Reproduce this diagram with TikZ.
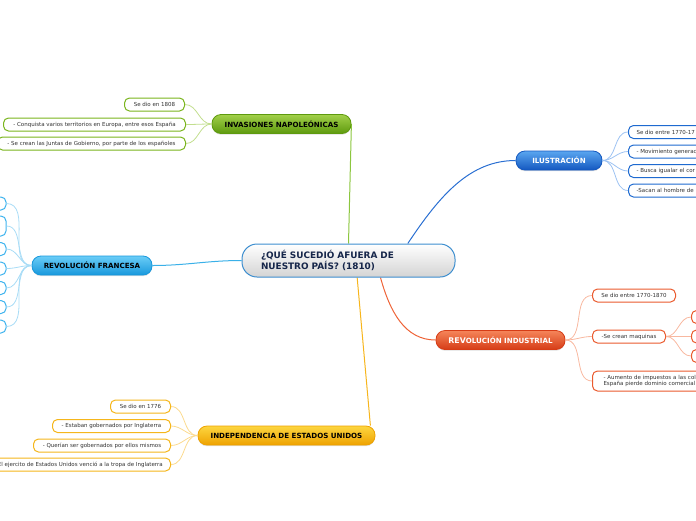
\documentclass[tikz,border=0pt]{standalone}
\usepackage{fontspec}
\setmainfont{DejaVu Sans}
\usetikzlibrary{shadows,calc}
\pgfdeclarelayer{bg}
\pgfsetlayers{bg,main}
\definecolor{gTop}{HTML}{A2D04A}\definecolor{gBot}{HTML}{5E9A0E}\definecolor{gLine}{HTML}{8CC63F}\definecolor{gLeaf}{HTML}{7AB51D}\definecolor{gLink}{HTML}{C2DE8E}
\definecolor{bTop}{HTML}{5AA6F0}\definecolor{bBot}{HTML}{1458C0}\definecolor{bLine}{HTML}{2A6FD2}\definecolor{bLeaf}{HTML}{1E6AD0}\definecolor{bLink}{HTML}{9CC2F2}
\definecolor{lTop}{HTML}{6ACDF7}\definecolor{lBot}{HTML}{1898DC}\definecolor{lLine}{HTML}{3AB0E8}\definecolor{lLeaf}{HTML}{3DB3EE}\definecolor{lLink}{HTML}{A8DCF6}
\definecolor{oTop}{HTML}{F5855A}\definecolor{oBot}{HTML}{D63C16}\definecolor{oLine}{HTML}{EE6438}\definecolor{oLeaf}{HTML}{EA5A2E}\definecolor{oLink}{HTML}{F8B8A0}
\definecolor{yTop}{HTML}{FDD640}\definecolor{yBot}{HTML}{EEA200}\definecolor{yLine}{HTML}{F7B51C}\definecolor{yLeaf}{HTML}{F5B61B}\definecolor{yLink}{HTML}{FBDA8E}
\definecolor{cBord}{HTML}{3D8ECF}\definecolor{cText}{HTML}{16264A}\definecolor{leafText}{HTML}{333333}
\begin{document}
\begin{tikzpicture}[x=1pt,y=-1pt,
  leaf/.style={draw=#1, fill=white, line width=1pt, rounded corners=5pt, minimum height=13pt,
    inner xsep=5pt, inner ysep=1pt, font=\fontsize{5.5}{6.6}\selectfont, text=leafText},
  branch/.style={rounded corners=9pt, minimum height=19pt, inner sep=0pt, line width=0.8pt,
    font=\bfseries\fontsize{7.1}{8.5}\selectfont,
    drop shadow={shadow xshift=0pt, shadow yshift=-1.2pt, opacity=0.25}},
  mainlink/.style={line width=1pt},
  leaflink/.style={line width=0.8pt}]
\useasboundingbox (0,0) rectangle (696,520);
\clip (0,0) rectangle (696,520);

% central node
\node[draw=cBord, line width=1pt, top color=white, bottom color=black!17, rounded corners=15pt,
  minimum width=213pt, minimum height=33pt, inner xsep=19pt, text width=175pt, align=left,
  font=\bfseries\fontsize{8.9}{10.6}\selectfont, text=cText] (c) at (348.5,260.5)
  {¿QUÉ SUCEDIÓ AFUERA DE\\NUESTRO PAÍS? (1810)};

% branch nodes
\node[branch, draw=gBot, top color=gTop, bottom color=gBot, minimum width=139pt, text=black] (inv) at (281.5,124) {INVASIONES NAPOLEÓNICAS};
\node[branch, draw=bBot, top color=bTop, bottom color=bBot, minimum width=86pt, text=white] (ilu) at (559,160.5) {ILUSTRACIÓN};
\node[branch, draw=lBot, top color=lTop, bottom color=lBot, minimum width=120pt, text=black] (rf) at (92,265.5) {REVOLUCIÓN FRANCESA};
\node[branch, draw=oBot, top color=oTop, bottom color=oBot, minimum width=129pt, text=white] (ri) at (500.5,340) {{\fontsize{7.8}{8.5}\selectfont REV}OLUCIÓN INDUSTRIAL};
\node[branch, draw=yBot, top color=yTop, bottom color=yBot, minimum width=177pt, text=black] (ind) at (286.5,435.5) {INDEPENDENCIA DE ESTADOS UNIDOS};

% main connectors (behind the nodes)
\begin{pgfonlayer}{bg}
\draw[mainlink, gLine] (c.north) -- (inv.east);
\draw[mainlink, bLine] (c.16) .. controls (440,195) and (470,160.5) .. (ilu.west);
\draw[mainlink, lLine] (c.west) to[out=180,in=0] (rf.east);
\draw[mainlink, oLine] (c.-28) .. controls (390,312) and (405,340) .. (ri.west);
\draw[mainlink, yLine] (c.-63) -- ($(ind.north east)+(-5,0)$);
\end{pgfonlayer}

% Invasiones leaves
\node[leaf=gLeaf, anchor=east, minimum width=60pt] (i1) at (185,104.5) {Se dio en 1808};
\node[leaf=gLeaf, anchor=east, minimum width=182pt] (i2) at (186,124.5) {- Conquista varios territorios en Europa, entre esos España};
\node[leaf=gLeaf, anchor=east, minimum width=188pt] (i3) at (186,143.5) {- Se crean las Juntas de Gobierno, por parte de los españoles};
\foreach \n in {i1,i2,i3} \draw[leaflink, gLink] (inv.west) to[out=180,in=0] (\n.east);

% Ilustracion leaves
\foreach \n/\y/\t in {u1/132/{Se dio entre 1770-17}, u2/151.5/{- Movimiento generac}, u3/171/{- Busca igualar el cor}, u4/190.5/{-Sacan al hombre de}}
  \node[leaf=bLeaf, anchor=west, text width=100pt, align=left, inner xsep=8pt] (\n) at (628,\y) {\t};
\foreach \n in {u1,u2,u3,u4} \draw[leaflink, bLink] (ilu.east) to[out=0,in=180] (\n.west);

% Revolucion francesa leaves
\foreach \n/\y/\h in {f1/203.5/13, f2/226/20, f3/249/13, f4/268.5/13, f5/288/13, f6/307/13, f7/326.5/13}
  \node[leaf=lLeaf, anchor=east, minimum width=40pt, minimum height=\h pt] (\n) at (6.5,\y) {};
\foreach \n in {f1,f2,f3,f4,f5,f6,f7} \draw[leaflink, lLink] (rf.west) to[out=180,in=0] (\n.east);

% Revolucion industrial leaves
\node[leaf=oLeaf, anchor=west, minimum width=83pt] (r1) at (592,295.5) {Se dio entre 1770-1870};
\node[leaf=oLeaf, anchor=west, minimum width=73pt] (r2) at (592,336.5) {-Se crean maquinas};
\node[leaf=oLeaf, anchor=west, text width=100pt, align=left, inner xsep=11pt, minimum height=20pt] (r3) at (592,381)
  {- Aumento de impuestos a las col\\España pierde dominio comercial};
\foreach \n in {r1,r2,r3} \draw[leaflink, oLink] (ri.east) to[out=0,in=180] (\n.west);
\foreach \n/\y in {m1/317, m2/336.5, m3/356}
  \node[leaf=oLeaf, anchor=west, minimum width=30pt] (\n) at (691,\y) {};
\foreach \n in {m1,m2,m3} \draw[leaflink, oLink] (r2.east) to[out=0,in=180] (\n.west);

% Independencia leaves
\node[leaf=yLeaf, anchor=east, minimum width=60pt] (d1) at (171,406.5) {Se dio en 1776};
\node[leaf=yLeaf, anchor=east, minimum width=118pt] (d2) at (171,426) {- Estaban gobernados por Inglaterra};
\node[leaf=yLeaf, anchor=east, minimum width=137pt] (d3) at (171,445.5) {- Querían ser gobernados por ellos mismos};
\node[leaf=yLeaf, anchor=east, minimum width=184pt] (d4) at (171,464.5) {- El ejercito de Estados Unidos venció a la tropa de Inglaterra};
\foreach \n in {d1,d2,d3,d4} \draw[leaflink, yLink] (ind.west) to[out=180,in=0] (\n.east);
\end{tikzpicture}
\end{document}
